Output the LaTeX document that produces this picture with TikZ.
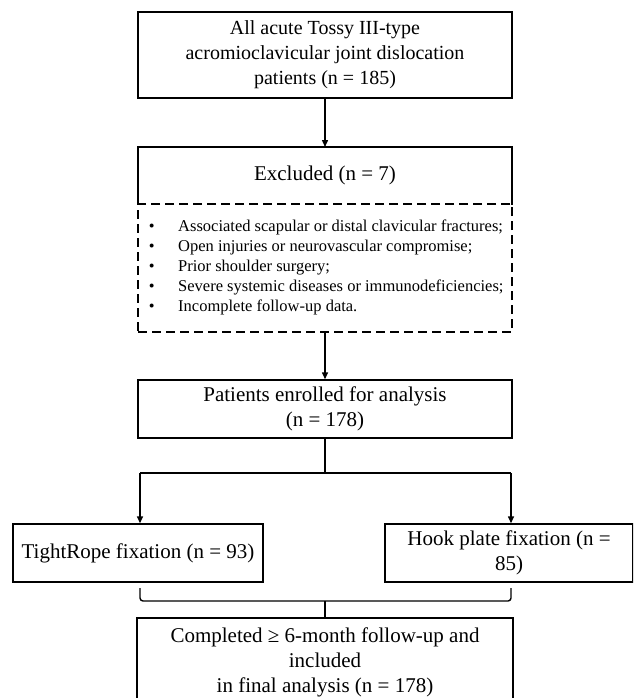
\documentclass[tikz,border=0pt]{standalone}
\usepackage{fontspec}
\setmainfont{Liberation Serif}
\usetikzlibrary{arrows.meta}
\begin{document}
\begin{tikzpicture}[x=1pt,y=-1pt,
  box/.style={draw,line width=1.4pt,align=center,inner sep=0pt,font=\fontsize{21}{25}\selectfont},
  conn/.style={line width=1.4pt},
  arr/.style={conn,-{Triangle[length=7pt,width=6pt]}},
  dashbox/.style={draw,line width=1.4pt,dash pattern=on 9pt off 5pt}]
\useasboundingbox (0,0) rectangle (633,698);
\clip (0,0) rectangle (633,698);
\fill[white] (0,0) rectangle (633,698);

\node[box,minimum width=374pt,minimum height=86pt,font=\fontsize{20}{25}\selectfont] (all) at (325,55)
  {All acute Tossy III-type\\acromioclavicular joint dislocation\\patients (n = 185)};

\node[box,draw=none,outer sep=0pt,minimum width=374pt,minimum height=57pt] (exc) at (325,175.5) {Excluded (n = 7)};
\draw[conn,line cap=rect] (exc.south west) -- (exc.north west) -- (exc.north east) -- (exc.south east);
\node[dashbox,minimum width=374pt,minimum height=128pt] (crit) at (325,268) {};
\node[anchor=west,inner sep=0pt,align=left,font=\fontsize{16.5}{20}\selectfont] (list) at (146,267)
  {\makebox[32pt][l]{\,•}Associated scapular or distal clavicular fractures;\\
   \makebox[32pt][l]{\,•}Open injuries or neurovascular compromise;\\
   \makebox[32pt][l]{\,•}Prior shoulder surgery;\\
   \makebox[32pt][l]{\,•}Severe systemic diseases or immunodeficiencies;\\
   \makebox[32pt][l]{\,•}Incomplete follow-up data.};

\node[box,minimum width=374pt,minimum height=58pt] (pat) at (325,409)
  {Patients enrolled for analysis\\(n = 178)};

\node[box,minimum width=250pt,minimum height=58pt] (tr) at (138,553) {TightRope fixation (n = 93)};
\node[box,minimum width=248pt,minimum height=58pt] (hp) at (509,553) {Hook plate fixation (n =\\85)};

\node[box,minimum width=376pt,minimum height=88pt] (fin) at (325,662)
  {Completed ≥ 6-month follow-up and\\included\\in final analysis (n = 178)};

\draw[arr] (all) -- (exc);
\draw[arr] (crit) -- (pat);

\coordinate (split) at (325,473);
\coordinate (sl) at (140,473);
\coordinate (sr) at (511,473);
\draw[conn] (pat) -- (split);
\draw[conn] (sl) -- (sr);
\draw[arr] (sl) -- (sl |- tr.north);
\draw[arr] (sr) -- (sr |- hp.north);

\coordinate (bl) at (140,588);
\coordinate (br) at (511,588);
\coordinate (bmid) at (325,601);
\draw[conn,rounded corners=3pt] (bl) -- (bl |- bmid) -- (br |- bmid) -- (br);
\draw[conn] (bmid) -- (bmid |- fin.north);
\end{tikzpicture}
\end{document}
